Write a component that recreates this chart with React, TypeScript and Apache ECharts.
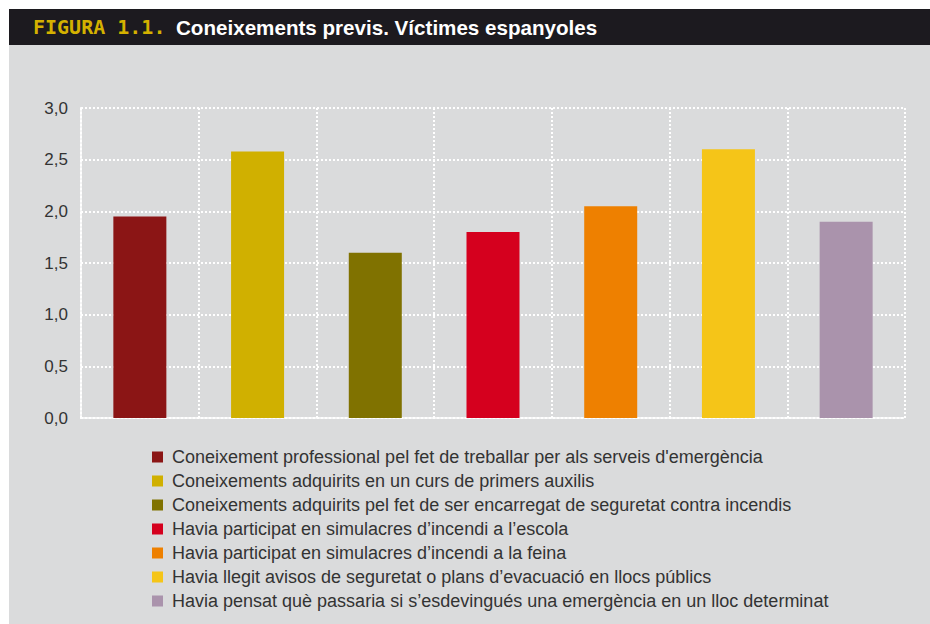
import React, { useEffect, useRef } from "react";
import * as echarts from "echarts";

const categories = [
  "Coneixement professional pel fet de treballar per als serveis d'emergència",
  "Coneixements adquirits en un curs de primers auxilis",
  "Coneixements adquirits pel fet de ser encarregat de seguretat contra incendis",
  "Havia participat en simulacres d’incendi a l’escola",
  "Havia participat en simulacres d’incendi a la feina",
  "Havia llegit avisos de seguretat o plans d’evacuació en llocs públics",
  "Havia pensat què passaria si s’esdevingués una emergència en un lloc determinat",
];
const values = [1.95, 2.58, 1.6, 1.8, 2.05, 2.6, 1.9];
const colors = ["#8B1515", "#D0B000", "#807200", "#D5001E", "#EE8000", "#F5C518", "#AA93AC"];
const yMin = 0;
const yMax = 3;
const yInterval = 0.5;

export default function App() {
  const ref = useRef<HTMLDivElement>(null);
  useEffect(() => {
    if (!ref.current) return;
    const chart = echarts.init(ref.current, null, { renderer: "svg" });
    const dotted = { color: "#ffffff", width: 2, type: [2, 2] as any };
    const series = categories.map((name, i) => ({
      type: "bar",
      name,
      stack: "all",
      barWidth: 53,
      itemStyle: { color: colors[i] },
      data: values.map((v, j) => (j === i ? v : "-")),
    }));
    chart.setOption({
      animation: false,
      backgroundColor: "#ffffff",
      graphic: [
        { type: "rect", shape: { x: 9, y: 9, width: 921, height: 615 }, style: { fill: "#DADBDC" }, z: -10 },
        { type: "rect", shape: { x: 9, y: 9, width: 921, height: 36 }, style: { fill: "#1C1A1F" }, z: -9 },
        {
          type: "text",
          x: 33,
          y: 27,
          style: {
            text: "FIGURA 1.1.",
            fill: "#D4B100",
            font: "bold 20px 'DejaVu Sans Mono', monospace",
            verticalAlign: "middle",
          },
        },
        {
          type: "text",
          x: 176,
          y: 27,
          style: {
            text: "Coneixements previs. Víctimes espanyoles",
            fill: "#ffffff",
            font: "bold 20.6px 'Liberation Sans', Arial, sans-serif",
            verticalAlign: "middle",
          },
        },
      ],
      grid: { left: 81, right: 25, top: 108, bottom: 206, containLabel: false },
      legend: {
        orient: "vertical",
        left: 152,
        top: 448,
        padding: 0,
        itemWidth: 11,
        itemHeight: 11,
        itemGap: 6,
        icon: "rect",
        textStyle: { color: "#333333", fontSize: 18, fontFamily: "'Liberation Sans', Arial, sans-serif", padding: [0, 0, 0, 4] },
        data: categories,
      },
      xAxis: {
        type: "category",
        data: categories,
        axisLine: { show: true, lineStyle: dotted },
        axisTick: { show: false, interval: 0 },
        axisLabel: { show: false, interval: 0 },
        splitLine: { show: true, interval: 0, lineStyle: dotted },
      },
      yAxis: {
        type: "value",
        min: yMin,
        max: yMax,
        interval: yInterval,
        axisLine: { show: true, lineStyle: dotted },
        axisTick: { show: false },
        axisLabel: {
          color: "#333333",
          fontSize: 17,
          fontFamily: "'Liberation Sans', Arial, sans-serif",
          margin: 13,
          formatter: (v: number) => v.toFixed(1).replace(".", ","),
        },
        splitLine: { show: true, lineStyle: dotted },
      },
      series,
    });
    return () => chart.dispose();
  }, []);
  return <div ref={ref} style={{ position: "fixed", left: 0, top: 0, width: 930, height: 624 }} />;
}
